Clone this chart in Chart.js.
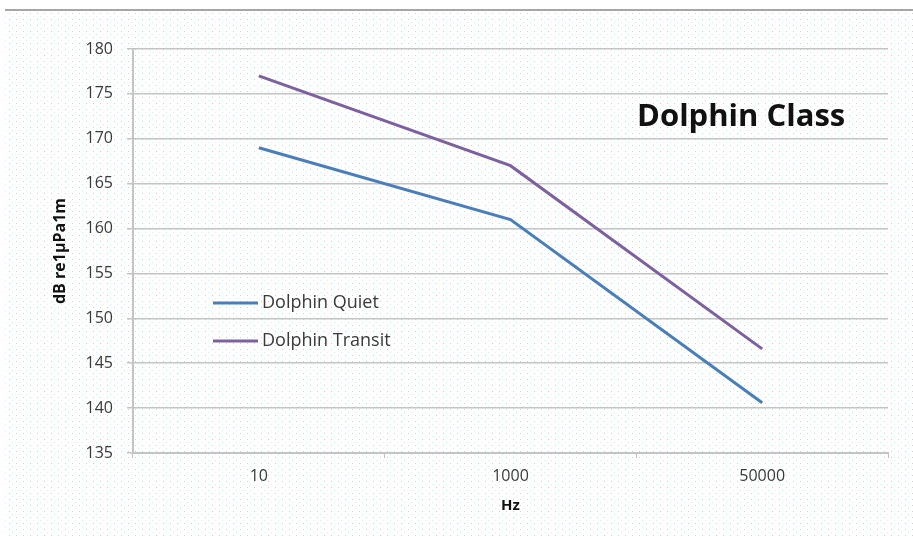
<!DOCTYPE html>
<html>
<head>
<meta charset="utf-8">
<script src="https://cdn.jsdelivr.net/npm/chart.js@4"></script>
<style>
    html, body { margin: 0; padding: 0; background: #ffffff; }
    #wrap { width: 913px; height: 536px; position: relative; }
</style>
</head>
<body>
<div id="wrap"><canvas id="soundChart" width="913" height="536"></canvas></div>
<script>
// Source levels by frequency
const frequencies   = ["10", "1000", "50000"];
const quietLevels   = [169, 161, 140.6];
const transitLevels = [177, 167, 146.6];

const yTicks = { min: 135, max: 180, step: 5 };

const COLORS = {
    quiet:   "#4A7EBB",
    transit: "#7D60A0",
    grid:    "#C4C4C4",
    text:    "#3A3A3A",
    frame:   "#A6A6A6",
};

const FONT = "'Open Sans', 'DejaVu Sans', sans-serif";

// Dotted backdrop, like the original's dithered fill
function makePattern(ctx) {
    const tile = document.createElement("canvas");
    tile.width = 7;
    tile.height = 6;
    const t = tile.getContext("2d");
    t.fillStyle = "#ffffff";
    t.fillRect(0, 0, 7, 6);
    t.fillStyle = "#d2d2d2";
    t.fillRect(2, 1, 1, 1);
    t.fillStyle = "#d6f6f8";
    t.fillRect(5, 4, 1, 1);
    return ctx.createPattern(tile, "repeat");
}

const backdrop = {
    id: "backdrop",
    beforeDraw(chart) {
        const ctx = chart.ctx;
        ctx.save();
        ctx.fillStyle = "#ffffff";
        ctx.fillRect(0, 0, chart.width, chart.height);
        ctx.fillStyle = makePattern(ctx);
        ctx.fillRect(5, 11, chart.width - 5, chart.height - 11);
        ctx.strokeStyle = COLORS.frame;
        ctx.lineWidth = 2;
        ctx.beginPath();
        ctx.moveTo(5, 10);
        ctx.lineTo(chart.width, 10);
        ctx.stroke();
        ctx.restore();
    }
};

// Title and legend sit inside the plot area in the original
const insideLabels = {
    id: "insideLabels",
    afterDraw(chart) {
        const ctx = chart.ctx;
        ctx.save();
        ctx.fillStyle = "#111111";
        ctx.font = "bold 31px " + FONT;
        ctx.textAlign = "left";
        ctx.textBaseline = "middle";
        ctx.fillText("Dolphin Class", 637, 117);

        const rows = [303, 341];
        chart.data.datasets.forEach((ds, i) => {
            ctx.strokeStyle = ds.borderColor;
            ctx.lineWidth = 3;
            ctx.beginPath();
            ctx.moveTo(213, rows[i]);
            ctx.lineTo(258, rows[i]);
            ctx.stroke();
            ctx.fillStyle = COLORS.text;
            ctx.font = "18px " + FONT;
            ctx.fillText(ds.label, 262, rows[i]);
        });
        ctx.restore();
    }
};

new Chart(document.getElementById("soundChart"), {
    type: "line",
    data: {
        labels: frequencies,
        datasets: [
            {
                label: "Dolphin Quiet",
                data: quietLevels,
                borderColor: COLORS.quiet,
                borderWidth: 3,
                pointRadius: 0,
                tension: 0,
            },
            {
                label: "Dolphin Transit",
                data: transitLevels,
                borderColor: COLORS.transit,
                borderWidth: 3,
                pointRadius: 0,
                tension: 0,
            },
        ]
    },
    options: {
        responsive: false,
        animation: false,
        layout: { padding: { left: 0, top: 49, right: 25, bottom: 0 } },
        plugins: {
            legend: { display: false },
            tooltip: { enabled: false },
        },
        scales: {
            x: {
                offset: true,
                grid: {
                    offset: true,
                    drawOnChartArea: false,
                    drawTicks: true,
                    tickLength: 5,
                    color: COLORS.grid,
                },
                border: { color: COLORS.grid, width: 2 },
                ticks: {
                    color: COLORS.text,
                    font: { family: FONT, size: 16 },
                    padding: 9,
                    maxRotation: 0,
                },
                title: {
                    display: true,
                    text: "Hz",
                    color: "#111111",
                    font: { family: FONT, size: 15, weight: "bold" },
                    padding: { top: 21, bottom: 21 },
                },
                afterFit(scale) { scale.height = 83; },
            },
            y: {
                min: yTicks.min,
                max: yTicks.max,
                grid: {
                    color: COLORS.grid,
                    lineWidth: 1.5,
                    tickLength: 6,
                },
                border: { color: COLORS.grid, width: 2 },
                ticks: {
                    stepSize: yTicks.step,
                    color: COLORS.text,
                    font: { family: FONT, size: 16 },
                    padding: 14,
                },
                title: {
                    display: true,
                    text: "dB re1µPa1m",
                    color: "#111111",
                    font: { family: FONT, size: 16, weight: "bold" },
                    padding: { top: 51, bottom: 51 },
                },
                afterFit(scale) { scale.width = 133; },
            },
        }
    },
    plugins: [backdrop, insideLabels]
});
</script>
</body>
</html>
